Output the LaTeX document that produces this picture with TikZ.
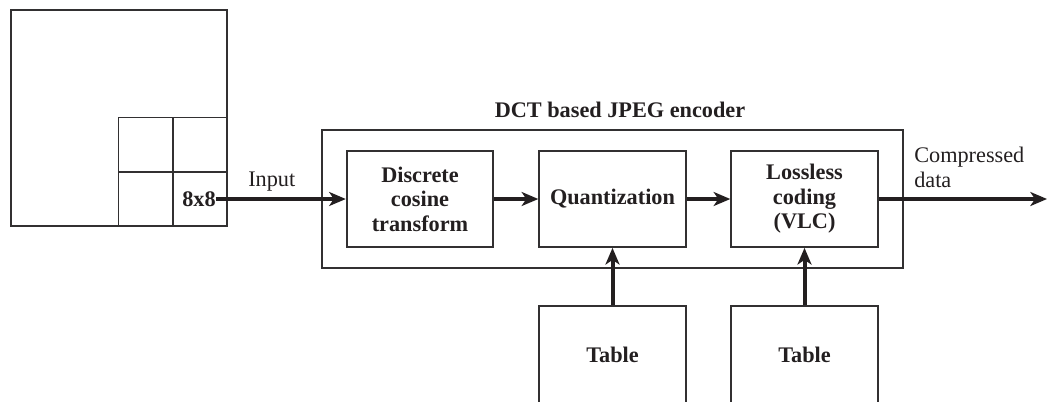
\documentclass[tikz,border=0pt]{standalone}
\usepackage{fontspec}
\setmainfont{Liberation Serif}
\usetikzlibrary{arrows.meta}
\definecolor{ink}{RGB}{35,31,32}
\definecolor{edge}{RGB}{50,48,49}
\begin{document}
\begin{tikzpicture}[x=0.75pt,y=-0.75pt,
  line/.style={draw=edge, line width=1.3pt},
  blk/.style={line, rectangle, inner sep=0pt, minimum width=110pt, minimum height=72pt,
    align=center, font=\fontsize{16.7}{18.4}\selectfont\bfseries, text=ink},
  cell/.style={line, rectangle, inner sep=0pt, minimum size=40.9pt},
  flow/.style={draw=ink, line width=3pt, -{Stealth[length=12.5pt,width=10.5pt,inset=3.5pt]}},
  lbl/.style={font=\fontsize{16.7}{18.8}\selectfont, text=ink, inner sep=0pt},
  blbl/.style={lbl, font=\fontsize{16.7}{18.8}\selectfont\bfseries}]
\clip (0,0) rectangle (1049,401);
% image and 8x8 blocks
\node[line, rectangle, inner sep=0pt, minimum size=162pt] (img) at (119,118) {};
\node[cell] (c1) at (145.75,144.75) {};
\node[cell] (c2) at (200,144.75) {};
\node[cell] (c3) at (145.75,199) {};
\node[cell] (c4) at (200,199) {};
\node[blbl] (t88) at (199,199) {8x8};
% encoder
\node[line, rectangle, inner sep=0pt, minimum width=435.75pt, minimum height=103.5pt] (enc) at (612.5,199) {};
\node[blbl, anchor=base] (title) at (620,117) {DCT based JPEG encoder};
\node[blk] (b1) at (420,199) {Discrete\\cosine\\transform};
\node[blk] (b2) at (612.5,199) {Quantization};
\node[blk] (b3) at (804.5,199) {Lossless\\coding\\(VLC)};
% tables
\node[blk, minimum height=72.75pt] (tab1) at (612.5,354.5) {Table};
\node[blk, minimum height=72.75pt] (tab2) at (804.5,354.5) {Table};
% labels
\node[lbl, anchor=base west] (inlbl) at (248,186) {Input};
\node[lbl, anchor=north west, align=left] (outlbl) at (914,146.5) {Compressed\\data};
\coordinate (out) at (1047,199);
% connectors
\draw[flow] (t88.east) -- (b1.west);
\draw[flow] (b1.east) -- (b2.west);
\draw[flow] (b2.east) -- (b3.west);
\draw[flow] (b3.east) -- (out);
\draw[flow] (tab1.north) -- (b2.south);
\draw[flow] (tab2.north) -- (b3.south);
\end{tikzpicture}
\end{document}
